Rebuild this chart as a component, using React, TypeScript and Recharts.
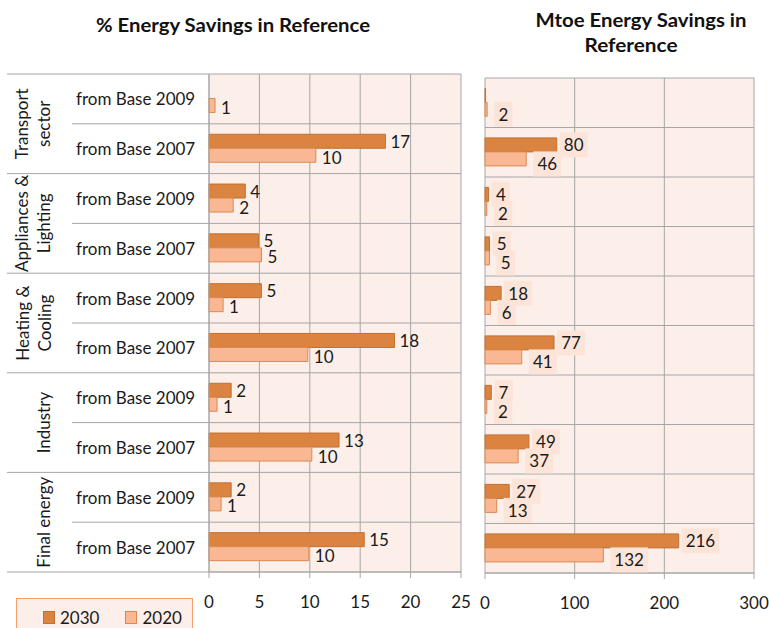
import React from 'react';
import { BarChart, Bar, XAxis, YAxis, CartesianGrid, LabelList, Legend } from 'recharts';

// ---------- data ----------
const rowIds = ['t09', 't07', 'a09', 'a07', 'h09', 'h07', 'i09', 'i07', 'f09', 'f07'];
const rowLabels = [
  'from Base 2009', 'from Base 2007',
  'from Base 2009', 'from Base 2007',
  'from Base 2009', 'from Base 2007',
  'from Base 2009', 'from Base 2007',
  'from Base 2009', 'from Base 2007',
];
const groupLabels = [
  ['Transport', 'sector'],
  ['Appliances &', 'Lighting'],
  ['Heating &', 'Cooling'],
  ['', 'Industry'],
  ['', 'Final energy'],
];
const seriesNames = ['2030', '2020'];

const pct2030 = [null, 17.5, 3.6, 4.9, 5.2, 18.4, 2.2, 12.9, 2.2, 15.4];
const pct2020 = [0.6, 10.6, 2.4, 5.2, 1.4, 9.8, 0.8, 10.2, 1.2, 9.9];
const pctLabels2030 = [null, 17, 4, 5, 5, 18, 2, 13, 2, 15];
const pctLabels2020 = [1, 10, 2, 5, 1, 10, 1, 10, 1, 10];

const mtoe2030 = [0.6, 80, 4, 5, 18, 77, 7, 49, 27, 216];
const mtoe2020 = [2.4, 46, 2, 5, 6, 41, 2, 37, 13, 132];
const mtoeLabels2030 = [null, 80, 4, 5, 18, 77, 7, 49, 27, 216];
const mtoeLabels2020 = [2, 46, 2, 5, 6, 41, 2, 37, 13, 132];

const pctTicks = [0, 5, 10, 15, 20, 25];
const mtoeTicks = [0, 100, 200, 300];

const titleLeft = '% Energy Savings in Reference';
const titleRight = ['Mtoe Energy Savings in', 'Reference'];

// ---------- styles ----------
const FONT = 'Lato, "Noto Sans", sans-serif';
const C2030 = '#DB8441';
const C2030_STROKE = '#C4702F';
const C2020 = '#FAB793';
const C2020_STROKE = '#D98A52';
const PLOT_BG = '#FCEEE9';
const LABEL_BG = '#FCE5D8';
const GRID = '#A6A6A6';

const pctData = rowIds.map((id, i) => ({
  id,
  v2030: pct2030[i],
  v2020: pct2020[i],
  l2030: pctLabels2030[i],
  l2020: pctLabels2020[i],
}));
const mtoeData = rowIds.map((id, i) => ({
  id,
  v2030: mtoe2030[i],
  v2020: mtoe2020[i],
  l2030: mtoeLabels2030[i],
  l2020: mtoeLabels2020[i],
}));

// layout
const L_W = 480;
const L_H = 628;
const L_MARGIN = { top: 74, right: 19, left: 0, bottom: 0 };
const L_YAXIS_W = 209;
const L_XAXIS_H = 56;
const L_PLOT_H = L_H - L_MARGIN.top - L_XAXIS_H;

const R_LEFT = 470;
const R_W = 299;
const R_H = 628;
const R_MARGIN = { top: 78, right: 15, left: 15, bottom: 0 };
const R_XAXIS_H = 55;

const boundaryGen = (props: any) => {
  const off = props.offset;
  return rowIds.map((_, i) => off.top + (i * off.height) / rowIds.length).concat([off.top + off.height]);
};

const RowTick = (props: any) => {
  const { y, payload } = props;
  const i = payload && payload.index != null ? payload.index : props.index;
  const band = L_PLOT_H / rowIds.length;
  const top = y - band / 2;
  const groupStart = i % 2 === 0;
  const g = groupLabels[Math.floor(i / 2)];
  const gCenter = top + band;
  return (
    <g>
      <line x1={groupStart ? 7 : 72} x2={L_YAXIS_W} y1={top} y2={top} stroke={GRID} strokeWidth={1} />
      {i === rowIds.length - 1 && (
        <line x1={7} x2={L_YAXIS_W} y1={y + band / 2} y2={y + band / 2} stroke={GRID} strokeWidth={1} />
      )}
      <text x={76} y={y} dominantBaseline="central" fontSize={17} fontFamily={FONT} fill="#1a1a1a">
        {rowLabels[i]}
      </text>
      {groupStart && g && (
        <g>
          {g[0] && (
            <text
              x={22}
              y={gCenter}
              transform={`rotate(-90 22 ${gCenter})`}
              textAnchor="middle"
              dominantBaseline="central"
              fontSize={17}
              fontFamily={FONT}
              fill="#1a1a1a"
            >
              {g[0]}
            </text>
          )}
          <text
            x={44}
            y={gCenter}
            transform={`rotate(-90 44 ${gCenter})`}
            textAnchor="middle"
            dominantBaseline="central"
            fontSize={17}
            fontFamily={FONT}
            fill="#1a1a1a"
          >
            {g[1]}
          </text>
        </g>
      )}
    </g>
  );
};

const plainLabel = (dx: number, dy: number) => (props: any) => {
  const { x, y, width, height, value } = props;
  if (value == null) return null;
  return (
    <text
      x={Number(x) + Number(width) + dx}
      y={Number(y) + Number(height) / 2 + dy}
      dominantBaseline="central"
      fontSize={17}
      fontFamily={FONT}
      fill="#1a1a1a"
    >
      {value}
    </text>
  );
};

const boxLabel = (dx: number, dy: number) => (props: any) => {
  const { x, y, width, height, value } = props;
  if (value == null) return null;
  const s = String(value);
  const bw = s.length * 9.5 + 9;
  const bh = 25;
  const bx = Number(x) + Number(width) + dx;
  const cy = Number(y) + Number(height) / 2 + dy;
  return (
    <g>
      <rect x={bx} y={cy - bh / 2} width={bw} height={bh} fill={LABEL_BG} />
      <text
        x={bx + bw / 2}
        y={cy}
        textAnchor="middle"
        dominantBaseline="central"
        fontSize={17}
        fontFamily={FONT}
        fill="#1a1a1a"
      >
        {s}
      </text>
    </g>
  );
};

const LegendContent = () => (
  <div
    style={{
      display: 'flex',
      alignItems: 'center',
      height: '100%',
      fontFamily: FONT,
      fontSize: 17,
      color: '#1a1a1a',
    }}
  >
    <span style={{ display: 'inline-block', width: 10, height: 11, background: C2030, border: `1px solid ${C2030_STROKE}`, marginLeft: 26 }} />
    <span style={{ marginLeft: 5 }}>{seriesNames[0]}</span>
    <span style={{ display: 'inline-block', width: 10, height: 11, background: C2020, border: `1px solid ${C2020_STROKE}`, marginLeft: 26 }} />
    <span style={{ marginLeft: 5 }}>{seriesNames[1]}</span>
  </div>
);

const tickStyle = { fontSize: 17, fontFamily: FONT, fill: '#1a1a1a' };

export default function App() {
  return (
    <div style={{ position: 'absolute', left: 0, top: 0, width: 769, height: 628, overflow: 'hidden', background: '#fff' }}>
      <svg width={769} height={70} style={{ position: 'absolute', left: 0, top: 0 }}>
        <text x={233} y={32} textAnchor="middle" fontFamily={FONT} fontWeight="bold" fontSize={18} fill="#111" textLength={274} lengthAdjust="spacingAndGlyphs">
          {titleLeft}
        </text>
        <text x={641} y={27} textAnchor="middle" fontFamily={FONT} fontWeight="bold" fontSize={18} fill="#111" textLength={211} lengthAdjust="spacingAndGlyphs">
          {titleRight[0]}
        </text>
        <text x={631} y={52} textAnchor="middle" fontFamily={FONT} fontWeight="bold" fontSize={18} fill="#111" textLength={93} lengthAdjust="spacingAndGlyphs">
          {titleRight[1]}
        </text>
      </svg>

      <div style={{ position: 'absolute', left: 0, top: 0 }}>
        <BarChart
          width={L_W}
          height={L_H}
          data={pctData}
          layout="vertical"
          margin={L_MARGIN}
          barCategoryGap="21%"
          barGap={0}
        >
          <CartesianGrid
            stroke={GRID}
            fill={PLOT_BG}
            fillOpacity={1}
            horizontalCoordinatesGenerator={boundaryGen}
          />
          <XAxis
            type="number"
            domain={[0, 25]}
            ticks={pctTicks}
            height={L_XAXIS_H}
            axisLine={{ stroke: GRID }}
            tickLine={{ stroke: GRID }}
            tickSize={6}
            tickMargin={18}
            tick={tickStyle}
            interval={0}
          />
          <YAxis
            type="category"
            dataKey="id"
            width={L_YAXIS_W}
            axisLine={{ stroke: GRID }}
            tickLine={false}
            tick={<RowTick />}
            interval={0}
          />
          <Bar dataKey="v2030" name={seriesNames[0]} fill={C2030} stroke={C2030_STROKE} strokeWidth={1} isAnimationActive={false}>
            <LabelList dataKey="l2030" content={plainLabel(5, 0)} />
          </Bar>
          <Bar dataKey="v2020" name={seriesNames[1]} fill={C2020} stroke={C2020_STROKE} strokeWidth={1} isAnimationActive={false}>
            <LabelList dataKey="l2020" content={plainLabel(6, 2)} />
          </Bar>
          <Legend
            verticalAlign="middle"
            align="center"
            layout="horizontal"
            content={<LegendContent />}
            wrapperStyle={{
              left: 16,
              top: 598,
              width: 177,
              height: 38,
              border: '1.5px solid #F2A06C',
              background: PLOT_BG,
              boxSizing: 'border-box',
            }}
          />
        </BarChart>
      </div>

      <div style={{ position: 'absolute', left: R_LEFT, top: 0 }}>
        <BarChart
          width={R_W}
          height={R_H}
          data={mtoeData}
          layout="vertical"
          margin={R_MARGIN}
          barCategoryGap="21%"
          barGap={0}
        >
          <CartesianGrid
            stroke={GRID}
            fill={PLOT_BG}
            fillOpacity={1}
            horizontalCoordinatesGenerator={boundaryGen}
          />
          <XAxis
            type="number"
            domain={[0, 300]}
            ticks={mtoeTicks}
            height={R_XAXIS_H}
            axisLine={{ stroke: GRID }}
            tickLine={{ stroke: GRID }}
            tickSize={6}
            tickMargin={18}
            tick={tickStyle}
            interval={0}
          />
          <YAxis type="category" dataKey="id" hide />
          <Bar dataKey="v2030" name={seriesNames[0]} fill={C2030} stroke={C2030_STROKE} strokeWidth={1} isAnimationActive={false}>
            <LabelList dataKey="l2030" content={boxLabel(3, 0)} />
          </Bar>
          <Bar dataKey="v2020" name={seriesNames[1]} fill={C2020} stroke={C2020_STROKE} strokeWidth={1} isAnimationActive={false}>
            <LabelList dataKey="l2020" content={boxLabel(7, 5)} />
          </Bar>
        </BarChart>
      </div>
    </div>
  );
}
